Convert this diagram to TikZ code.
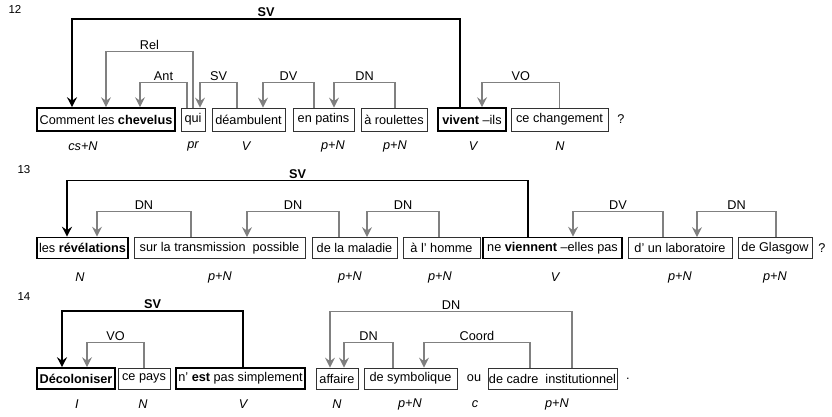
\documentclass[tikz,border=0pt]{standalone}
\usepackage{fontspec}
\setmainfont{Liberation Sans}
\usepackage{xcolor}
\usepackage{tikz}
\usetikzlibrary{arrows.meta,positioning}
\definecolor{linkgray}{RGB}{128,128,128}
\definecolor{boxline}{RGB}{50,50,50}

\begin{document}
\begin{tikzpicture}[
    x=1pt, y=-1pt,
    every node/.style={font=\fontsize{12.7}{15}\selectfont},
    word/.style={draw=boxline, line width=0.8pt, minimum height=21pt, inner sep=1pt},
    headword/.style={word, draw=black, line width=1.6pt},
    postag/.style={font=\fontsize{12.7}{15}\selectfont\itshape},
    num/.style={font=\fontsize{11.5}{13}\selectfont},
    dep/.style={draw=linkgray, line width=1.1pt, -{Stealth[length=10pt, width=10pt, inset=3.5pt]}},
    sv/.style={draw=black, line width=1.5pt, -{Stealth[length=10pt, width=10pt, inset=3.5pt]}},
    lab/.style={above, inner sep=1.5pt, text=black},
    svlab/.style={lab, font=\fontsize{12.7}{15}\selectfont\bfseries}
]
    \useasboundingbox (0,0) rectangle (832,417);

    % Sentence 12
    \node[num] (n12) at (15,9) {12};
    \node[headword, minimum height=23pt, minimum width=138pt] (c12a) at (106,119.5) {Comment les \textbf{chevelus}};
    \node[word, minimum height=23pt, minimum width=24pt] (c12b) at (193,119.5) {qui};
    \node[word, minimum height=23pt, minimum width=73pt] (c12c) at (248.5,119.5) {déambulent};
    \node[word, minimum height=23pt, minimum width=61pt] (c12d) at (323.5,119.5) {en patins};
    \node[word, minimum height=23pt, minimum width=66pt] (c12e) at (394,119.5) {à roulettes};
    \node[headword, minimum height=23pt, minimum width=68pt] (c12f) at (472,119.5) {\textbf{vivent} –ils};
    \node[word, minimum height=23pt, minimum width=97pt] (c12g) at (559.5,119.5) {ce changement};
    \node (q12) at (621,119.5) {?};

    \node[postag] (p12a) at (83,146) {cs+N};
    \node[postag] (p12b) at (193,146) {pr};
    \node[postag] (p12c) at (246,146) {V};
    \node[postag] (p12d) at (333,146) {p+N};
    \node[postag] (p12e) at (395,146) {p+N};
    \node[postag] (p12f) at (473,146) {V};
    \node[postag] (p12g) at (560,146) {N};

    \draw[sv] ([xshift=-12pt]c12f.north) -- ++(0,-88) -| node[svlab, pos=0.25] {SV} ([xshift=-34pt]c12a.north);
    \draw[dep] (c12b.north) -- ++(0,-56) -| node[lab, pos=0.25] {Rel} (c12a.north);
    \draw[dep] ([xshift=-6pt]c12b.north) -- ++(0,-25) -| node[lab, pos=0.25] {Ant} ([xshift=34pt]c12a.north);
    \draw[dep] ([xshift=-11.5pt]c12c.north) -- ++(0,-25) -| node[lab, pos=0.25] {SV} ([xshift=7pt]c12b.north);
    \draw[dep] ([xshift=-9.5pt]c12d.north) -- ++(0,-25) -| node[lab, pos=0.25] {DV} ([xshift=14.5pt]c12c.north);
    \draw[dep] ([xshift=1pt]c12e.north) -- ++(0,-25) -| node[lab, pos=0.25] {DN} ([xshift=10.5pt]c12d.north);
    \draw[dep] (c12g.north) -- ++(0,-25) -| node[lab, pos=0.25] {VO} ([xshift=10pt]c12f.north);

    % Sentence 13
    \node[num] (n13) at (24,170) {13};
    \node[headword, minimum width=91pt] (c13a) at (82.5,248) {les \textbf{révélations}};
    \node[word, minimum width=171pt] (c13b) at (219.5,248) {sur la transmission\ \ possible};
    \node[word, minimum width=85pt] (c13c) at (354.5,248) {de la maladie};
    \node[word, minimum width=77pt] (c13d) at (441.5,248) {à l' homme};
    \node[headword, minimum width=139pt] (c13e) at (552.5,248) {ne \textbf{viennent} –elles pas};
    \node[word, minimum width=104pt] (c13f) at (680,248) {d' un laboratoire};
    \node[word, minimum width=74pt] (c13g) at (775,248) {de Glasgow};
    \node (q13) at (822,248) {?};

    \node[postag] (p13a) at (80,277) {N};
    \node[postag] (p13b) at (220,277) {p+N};
    \node[postag] (p13c) at (350,277) {p+N};
    \node[postag] (p13d) at (440,277) {p+N};
    \node[postag] (p13e) at (555,277) {V};
    \node[postag] (p13f) at (680,277) {p+N};
    \node[postag] (p13g) at (775,277) {p+N};

    \draw[sv] ([xshift=-24.5pt]c13e.north) -- ++(0,-56) -| node[svlab, pos=0.25] {SV} ([xshift=-15.5pt]c13a.north);
    \draw[dep] ([xshift=-28.5pt]c13b.north) -- ++(0,-26) -| node[lab, pos=0.25] {DN} ([xshift=14.5pt]c13a.north);
    \draw[dep] ([xshift=-15.5pt]c13c.north) -- ++(0,-26) -| node[lab, pos=0.25] {DN} ([xshift=27.5pt]c13b.north);
    \draw[dep] ([xshift=-2.5pt]c13d.north) -- ++(0,-26) -| node[lab, pos=0.25] {DN} ([xshift=12.5pt]c13c.north);
    \draw[dep] ([xshift=-17pt]c13f.north) -- ++(0,-26) -| node[lab, pos=0.25] {DV} ([xshift=20.5pt]c13e.north);
    \draw[dep] ([xshift=1pt]c13g.north) -- ++(0,-26) -| node[lab, pos=0.25] {DN} ([xshift=17pt]c13f.north);

    % Sentence 14
    \node[num] (n14) at (24,297) {14};
    \node[headword, minimum width=78pt] (c14a) at (76,378.5) {\textbf{Décoloniser}};
    \node[word, minimum width=52pt] (c14b) at (144,378.5) {ce pays};
    \node[headword, minimum width=129pt] (c14c) at (240.5,378.5) {n' \textbf{est} pas simplement};
    \node[word, minimum width=42pt] (c14d) at (337,378.5) {affaire};
    \node[word, minimum width=93pt] (c14e) at (410.5,378.5) {de symbolique};
    \node (ou14) at (474,378.5) {ou};
    \node[word, minimum width=129pt] (c14f) at (552.5,378.5) {de cadre\ \ institutionnel};
    \node (pt14) at (628,378.5) {.};

    \node[postag] (p14a) at (77,404) {I};
    \node[postag] (p14b) at (143,404) {N};
    \node[postag] (p14c) at (243,404) {V};
    \node[postag] (p14d) at (337,404) {N};
    \node[postag] (p14e) at (410,404) {p+N};
    \node[postag] (p14f) at (475,404) {c};
    \node[postag] (p14g) at (557,404) {p+N};

    \draw[sv] ([xshift=2.5pt]c14c.north) -- ++(0,-56) -| node[svlab, pos=0.25] {SV} ([xshift=-14pt]c14a.north);
    \draw[dep] (c14b.north) -- ++(0,-25) -| node[lab, pos=0.25] {VO} ([xshift=11pt]c14a.north);
    \draw[dep] ([xshift=19.5pt]c14f.north) -- ++(0,-56) -| node[lab, pos=0.25] {DN} ([xshift=-7pt]c14d.north);
    \draw[dep] ([xshift=-17.5pt]c14e.north) -- ++(0,-25) -| node[lab, pos=0.25] {DN} ([xshift=7pt]c14d.north);
    \draw[dep] ([xshift=-22.5pt]c14f.north) -- ++(0,-25) -| node[lab, pos=0.25] {Coord} ([xshift=13.5pt]c14e.north);
\end{tikzpicture}
\end{document}
